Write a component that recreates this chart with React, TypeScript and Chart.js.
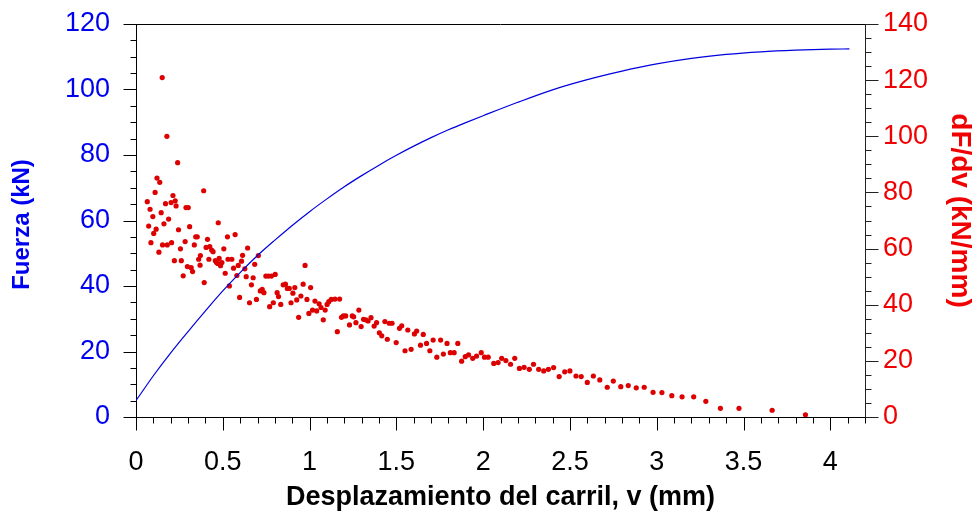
import React, { useEffect, useRef } from "react";
import { Chart, registerables } from "chart.js";

Chart.register(...registerables);

// Force vs. rail displacement (left axis, kN)
const forceDisp = [0, 0.1, 0.2, 0.3, 0.4, 0.5, 0.6, 0.7, 0.8, 0.9, 1.0, 1.1, 1.2, 1.3, 1.4, 1.5, 1.6, 1.7, 1.8, 1.9, 2.0, 2.2, 2.4, 2.6, 2.8, 3.0, 3.2, 3.4, 3.6, 3.8, 4.0, 4.11];
const forceKN = [5.0, 12.6, 19.6, 26.1, 32.4, 38.5, 44.1, 49.3, 54.0, 58.5, 62.7, 66.6, 70.3, 73.7, 76.9, 79.9, 82.7, 85.3, 87.7, 89.9, 92.0, 96.1, 99.9, 103.0, 105.6, 107.8, 109.5, 110.7, 111.5, 112.0, 112.3, 112.4];

// Stiffness dF/dv vs. displacement (right axis, kN/mm)
const rateDisp = [
  0.065, 0.073, 0.081, 0.086, 0.097, 0.102, 0.11, 0.116, 0.121, 0.132, 0.137, 0.145, 0.151, 0.153, 0.161, 0.17, 0.178, 0.18, 0.188, 0.202,
  0.205, 0.213, 0.221, 0.226, 0.231, 0.24, 0.245, 0.256, 0.261, 0.272, 0.283, 0.288, 0.296, 0.301, 0.309, 0.318, 0.326, 0.336, 0.344, 0.353,
  0.361, 0.369, 0.371, 0.39, 0.393, 0.404, 0.412, 0.42, 0.425, 0.436, 0.444, 0.457, 0.464, 0.471, 0.474, 0.479, 0.487, 0.495, 0.506, 0.514,
  0.527, 0.53, 0.538, 0.552, 0.562, 0.571, 0.581, 0.589, 0.597, 0.608, 0.614, 0.627, 0.635, 0.643, 0.654, 0.665, 0.675, 0.684, 0.694, 0.705,
  0.716, 0.727, 0.737, 0.748, 0.762, 0.77, 0.78, 0.791, 0.802, 0.813, 0.821, 0.834, 0.848, 0.861, 0.872, 0.883, 0.893, 0.904, 0.915, 0.926,
  0.937, 0.95, 0.963, 0.974, 0.985, 0.996, 1.006, 1.017, 1.031, 1.041, 1.055, 1.066, 1.079, 1.09, 1.101, 1.111, 1.125, 1.146, 1.16, 1.173,
  1.184, 1.195, 1.208, 1.23, 1.246, 1.254, 1.267, 1.284, 1.297, 1.311, 1.324, 1.337, 1.354, 1.372, 1.386, 1.402, 1.416, 1.434, 1.448, 1.459,
  1.475, 1.499, 1.518, 1.531, 1.55, 1.566, 1.585, 1.604, 1.617, 1.639, 1.655, 1.674, 1.693, 1.712, 1.733, 1.755, 1.771, 1.792, 1.811, 1.833,
  1.854, 1.876, 1.897, 1.916, 1.94, 1.962, 1.989, 2.008, 2.029, 2.061, 2.086, 2.107, 2.131, 2.158, 2.182, 2.209, 2.236, 2.266, 2.29, 2.32,
  2.349, 2.376, 2.406, 2.438, 2.47, 2.5, 2.535, 2.565, 2.6, 2.635, 2.672, 2.715, 2.75, 2.793, 2.836, 2.882, 2.928, 2.979, 3.03, 3.087,
  3.146, 3.213, 3.283, 3.367, 3.474, 3.665, 3.857,
];
const rateKNmm = [
  76.7, 68.0, 74.0, 62.1, 71.4, 65.4, 80.0, 66.9, 85.1, 58.7, 83.6, 72.8, 120.9, 61.3, 68.8, 76.0, 100.0, 61.3, 70.5, 76.4,
  62.1, 78.9, 55.7, 77.0, 75.2, 90.6, 66.7, 59.9, 55.7, 50.3, 62.5, 74.6, 53.6, 74.6, 67.8, 53.2, 51.8, 61.3, 64.2, 64.2,
  56.2, 54.1, 57.5, 80.6, 47.9, 60.4, 63.3, 56.2, 60.7, 59.5, 58.9, 55.7, 55.0, 54.7, 69.2, 56.5, 53.9, 55.0, 59.9, 51.2,
  64.2, 56.2, 46.7, 56.2, 53.0, 65.0, 50.4, 54.0, 42.6, 55.5, 57.6, 52.8, 50.0, 60.2, 40.7, 47.1, 49.6, 54.4, 41.9, 57.5,
  44.9, 45.5, 44.3, 50.2, 50.2, 39.3, 50.2, 40.7, 50.8, 44.3, 42.9, 40.1, 47.1, 47.3, 45.8, 45.8, 40.7, 44.1, 46.1, 41.7,
  35.5, 43.1, 47.3, 54.0, 41.9, 36.9, 46.1, 38.1, 41.3, 37.8, 40.3, 39.0, 34.6, 38.1, 40.1, 41.1, 41.9, 42.0, 30.4, 42.0,
  35.5, 36.0, 36.0, 32.8, 36.0, 35.7, 33.6, 38.1, 32.2, 34.8, 34.6, 34.2, 35.4, 32.4, 33.6, 30.0, 28.9, 34.0, 27.7, 33.4,
  33.4, 26.5, 31.6, 32.5, 23.6, 31.0, 24.1, 29.6, 30.6, 25.6, 29.4, 26.2, 23.6, 27.4, 21.3, 27.4, 22.4, 26.2, 22.9, 22.9,
  26.2, 19.9, 21.5, 22.1, 20.9, 21.7, 22.9, 21.3, 21.3, 19.1, 19.4, 20.9, 20.1, 18.8, 20.9, 17.3, 17.7, 17.0, 18.8, 17.0,
  16.4, 17.0, 17.6, 14.4, 16.1, 16.4, 14.6, 14.4, 12.3, 14.6, 13.2, 10.6, 12.8, 10.8, 11.2, 10.4, 10.6, 8.8, 8.7, 7.6,
  7.2, 7.2, 5.6, 3.1, 3.1, 2.4, 0.8,
];

// Axis ranges and tick steps
const xRange = [0, 4.2];
const forceRange = [0, 120];
const rateRange = [0, 140];
const xMinorStep = 0.1;
const xMajorStep = 0.5;
const yMinorStep = 5;
const yMajorStep = 20;

const BLUE = "#0000f0";
const RED = "#f00000";
const DOT = "#dd0000";
const FONT = "'Liberation Sans', Arial, Helvetica, sans-serif";

// Outward tick marks (major + minor) and the top frame line
const tickMarks = {
  id: "tickMarks",
  afterDraw(chart: any) {
    const { ctx, chartArea } = chart;
    const xs = chart.scales.x;
    const yl = chart.scales.y;
    const yr = chart.scales.y2;
    const line = (x1: number, y1: number, x2: number, y2: number) => {
      ctx.beginPath();
      ctx.moveTo(x1, y1);
      ctx.lineTo(x2, y2);
      ctx.stroke();
    };
    const near = (v: number, step: number) => Math.abs(v / step - Math.round(v / step)) < 1e-6;
    ctx.save();
    ctx.strokeStyle = "#000";
    ctx.lineWidth = 1;
    line(chartArea.left, Math.round(chartArea.top) + 0.5, chartArea.right, Math.round(chartArea.top) + 0.5);
    const bottom = Math.round(chartArea.bottom) + 0.5;
    const nx = Math.round((xRange[1] - xRange[0]) / xMinorStep);
    for (let i = 0; i <= nx; i++) {
      const v = xRange[0] + i * xMinorStep;
      const px = Math.round(xs.getPixelForValue(v)) + 0.5;
      line(px, bottom, px, bottom + (near(v, xMajorStep) ? 13 : 6));
    }
    const left = Math.round(chartArea.left) + 0.5;
    for (let v = forceRange[0]; v <= forceRange[1] + 1e-9; v += yMinorStep) {
      const py = Math.round(yl.getPixelForValue(v)) + 0.5;
      line(left, py, left - (near(v, yMajorStep) ? 13 : 6), py);
    }
    const right = Math.round(chartArea.right) + 0.5;
    ctx.strokeStyle = "#222";
    for (let v = rateRange[0]; v <= rateRange[1] + 1e-9; v += yMinorStep) {
      const py = Math.round(yr.getPixelForValue(v)) + 0.5;
      line(right, py, right + (near(v, yMajorStep) ? 13 : 6), py);
    }
    ctx.restore();
  },
};

// Rotated titles of the two value axes
const axisTitles = {
  id: "axisTitles",
  afterDraw(chart: any) {
    const { ctx, chartArea } = chart;
    const mid = (chartArea.top + chartArea.bottom) / 2;
    const draw = (text: string, x: number, y: number, rot: number, size: number, color: string) => {
      ctx.save();
      ctx.translate(x, y);
      ctx.rotate(rot);
      ctx.font = `bold ${size}px ${FONT}`;
      ctx.fillStyle = color;
      ctx.textAlign = "center";
      ctx.textBaseline = "middle";
      ctx.fillText(text, 0, 0);
      ctx.restore();
    };
    draw("Fuerza (kN)", 22.5, mid + 4, -Math.PI / 2, 24, BLUE);
    draw("dF/dv (kN/mm)", 960, mid - 10, Math.PI / 2, 28, RED);
  },
};

const fixWidth = (w: number) => (s: any) => {
  s.width = w;
  s.paddingTop = 0;
  s.paddingBottom = 0;
};

export default function App() {
  const canvasRef = useRef<HTMLCanvasElement | null>(null);

  useEffect(() => {
    if (!canvasRef.current) return;
    const forcePoints = forceDisp.map((x, i) => ({ x, y: forceKN[i] }));
    const ratePoints = rateDisp.map((x, i) => ({ x, y: rateKNmm[i] }));

    const chart = new Chart(canvasRef.current, {
      type: "scatter",
      data: {
        datasets: [
          {
            label: "Fuerza",
            data: forcePoints,
            yAxisID: "y",
            showLine: true,
            borderColor: "#0000e0",
            borderWidth: 1.2,
            pointRadius: 0,
            cubicInterpolationMode: "monotone",
          },
          {
            label: "dF/dv",
            data: ratePoints,
            yAxisID: "y2",
            showLine: false,
            pointRadius: 2.6,
            pointBackgroundColor: DOT,
            pointBorderWidth: 0,
            backgroundColor: DOT,
          },
        ],
      },
      options: {
        responsive: false,
        animation: false,
        layout: { padding: { top: 24, left: 0, right: 0, bottom: 0 } },
        plugins: { legend: { display: false }, tooltip: { enabled: false } },
        scales: {
          x: {
            type: "linear",
            position: "bottom",
            min: xRange[0],
            max: xRange[1],
            grid: { display: true, drawOnChartArea: false, drawTicks: false },
            border: { display: true, color: "#000", width: 1 },
            ticks: {
              stepSize: xMajorStep,
              includeBounds: false,
              color: "#000",
              padding: 29,
              maxRotation: 0,
              autoSkip: false,
              font: { family: FONT, size: 27 },
              callback: (v: any) => String(Number(Number(v).toFixed(1))),
            },
            title: {
              display: true,
              text: "Desplazamiento del carril, v (mm)",
              color: "#000",
              font: { family: FONT, size: 27, weight: "bold" },
              padding: { top: 0, bottom: 4 },
            },
            afterFit: (s: any) => {
              s.height = 101;
              s.paddingLeft = 0;
              s.paddingRight = 0;
            },
          },
          y: {
            type: "linear",
            position: "left",
            min: forceRange[0],
            max: forceRange[1],
            grid: { display: true, drawOnChartArea: false, drawTicks: false },
            border: { display: true, color: "#000", width: 1 },
            ticks: {
              stepSize: yMajorStep,
              color: BLUE,
              padding: 26,
              font: { family: FONT, size: 27 },
            },
            title: { display: false },
            afterFit: fixWidth(136),
          },
          y2: {
            type: "linear",
            position: "right",
            min: rateRange[0],
            max: rateRange[1],
            grid: { display: true, drawOnChartArea: false, drawTicks: false },
            border: { display: true, color: "#222", width: 1 },
            ticks: {
              stepSize: yMajorStep,
              color: RED,
              padding: 18,
              font: { family: FONT, size: 27 },
            },
            title: { display: false },
            afterFit: fixWidth(110),
          },
        },
      },
      plugins: [tickMarks, axisTitles],
    } as any);

    return () => chart.destroy();
  }, []);

  return (
    <div style={{ position: "absolute", left: 0, top: 0, width: 975, height: 518, background: "#fff" }}>
      <canvas ref={canvasRef} width={975} height={518} />
    </div>
  );
}
